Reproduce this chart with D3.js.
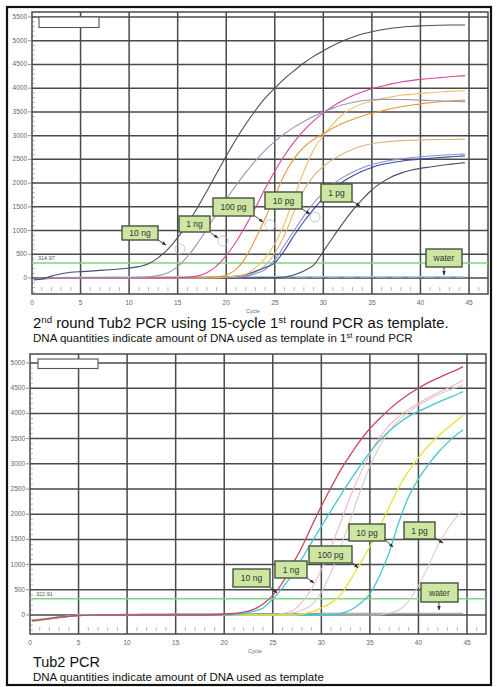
<!DOCTYPE html>
<html><head><meta charset="utf-8">
<script src="https://cdn.jsdelivr.net/npm/d3@7"></script>
<style>
body{margin:0;background:#fff}
svg{display:block}
text{font-family:"Liberation Sans",Arial,Helvetica,sans-serif}
</style></head>
<body><svg id="c" width="498" height="687"></svg>
<script>
// ---------------- data ----------------
const cycles = [0.2,1,2,3,4,5,6,7,8,9,10,11,12,13,14,15,16,17,18,19,20,21,22,23,24,25,26,27,28,29,30,31,32,33,34,35,36,37,38,39,40,41,42,43,44,44.6];
const xTicks = [0,5,10,15,20,25,30,35,40,45];
const topYTicks = [0,500,1000,1500,2000,2500,3000,3500,4000,4500,5000,5500];
const botYTicks = [0,500,1000,1500,2000,2500,3000,3500,4000,4500,5000];
const topThreshold = 314.97;
const botThreshold = 322.91;

// top chart (2nd round)
const top10ngA  = [-40,-20,40,90,120,135,145,160,175,190,210,240,300,430,610,850,1140,1470,1830,2200,2570,2920,3240,3530,3790,4000,4200,4370,4530,4670,4790,4900,4995,5075,5140,5190,5230,5262,5285,5300,5312,5320,5326,5330,5332,5333];
const top10ngB  = [-30,-15,0,5,5,5,5,5,5,8,10,15,25,50,110,240,450,720,1030,1350,1660,1950,2220,2470,2690,2880,3040,3180,3300,3410,3500,3580,3650,3700,3735,3755,3765,3765,3760,3755,3748,3740,3733,3726,3720,3716];
const top1ngA   = [-30,-20,-5,0,0,0,0,0,0,0,0,0,0,0,0,5,15,40,110,250,470,760,1100,1480,1880,2250,2580,2870,3110,3310,3480,3620,3740,3840,3920,3990,4040,4090,4130,4160,4185,4205,4222,4240,4255,4264];
const top100pgA = [-30,-20,-10,0,0,0,0,0,0,0,0,0,0,0,0,0,0,5,10,25,60,180,430,820,1250,1720,2180,2520,2760,2920,3040,3160,3260,3340,3410,3470,3520,3570,3610,3640,3670,3695,3715,3730,3745,3750];
const top100pgB = [-25,-15,-5,0,0,0,0,0,0,0,0,0,0,0,0,0,0,0,5,10,20,40,80,220,420,720,1150,1700,2250,2700,3000,3250,3450,3580,3670,3730,3780,3820,3850,3870,3890,3905,3920,3932,3942,3947];
const top10pgA  = [-20,-10,0,0,0,0,0,0,0,0,0,0,0,0,0,0,0,0,5,10,20,40,70,140,220,320,580,900,1190,1450,1690,1880,2030,2150,2250,2330,2390,2430,2460,2485,2505,2522,2538,2552,2565,2571];
const top10pgB  = [-20,-10,0,0,0,0,0,0,0,0,0,0,0,0,0,0,0,0,5,10,15,25,40,90,180,380,690,1000,1310,1580,1800,1980,2120,2230,2320,2390,2440,2480,2510,2535,2555,2572,2586,2598,2608,2612];
const top1pgA   = [-20,-10,0,0,0,0,0,0,0,0,0,0,0,0,0,0,0,0,0,0,0,0,0,0,5,10,20,70,150,270,560,860,1150,1420,1650,1860,2010,2130,2210,2270,2310,2340,2370,2395,2418,2430];
const top1pgB   = [-20,-10,0,0,0,0,0,0,0,0,0,0,0,0,0,0,0,0,0,5,10,20,40,120,260,520,900,1400,1850,2150,2350,2500,2620,2710,2780,2830,2860,2880,2895,2903,2910,2915,2918,2920,2922,2923];
const topWaterA = [-20,-10,0,5,10,10,15,15,20,20,20,20,20,20,25,25,25,25,25,25,25,25,25,25,25,25,25,25,25,25,25,25,25,25,25,25,25,25,25,25,25,25,25,25,25,25];
const topWaterB = [-35,-20,-8,0,0,5,5,5,5,5,5,5,5,5,5,5,5,5,5,5,5,5,5,5,5,5,5,5,5,5,5,5,5,5,5,5,5,5,5,5,5,5,5,5,5,5];

// bottom chart (Tub2 PCR)
const bot10ngA  = [-110,-95,-70,-45,-25,-10,-3,0,0,0,0,0,0,0,0,0,0,0,0,5,15,30,55,110,220,390,640,990,1350,1760,2160,2530,2880,3180,3460,3700,3900,4080,4240,4380,4500,4610,4700,4790,4870,4927];
const bot10ngB  = [-120,-100,-75,-50,-28,-12,-4,0,0,0,0,0,0,0,0,0,0,0,0,0,0,10,30,70,140,320,540,800,1120,1440,1760,2070,2380,2680,2960,3230,3460,3650,3810,3940,4040,4130,4220,4300,4380,4431];
const bot1ngA   = [-100,-90,-65,-40,-22,-8,-2,0,0,0,0,0,0,0,0,0,0,0,0,0,0,0,0,0,0,10,30,80,250,520,900,1350,1850,2350,2800,3200,3520,3760,3940,4080,4200,4310,4410,4500,4600,4663];
const bot1ngB   = [-90,-80,-60,-38,-20,-8,-2,0,0,0,0,0,0,0,0,0,0,0,0,0,0,0,0,0,0,0,0,40,100,200,450,850,1350,1900,2450,2950,3350,3650,3870,4030,4160,4270,4370,4450,4520,4560];
const bot100pg  = [-130,-110,-80,-50,-28,-12,-4,0,0,0,0,0,0,0,0,0,0,0,0,0,0,0,0,0,0,0,0,0,20,60,140,240,400,700,1020,1360,1740,2150,2540,2860,3120,3350,3540,3710,3870,3968];
const bot10pg   = [-115,-100,-72,-46,-25,-10,-3,0,0,0,0,0,0,0,0,0,0,0,0,0,0,0,0,0,0,0,0,0,0,0,0,0,30,100,230,420,780,1250,1850,2350,2700,2980,3220,3420,3590,3671];
const bot1pg    = [-105,-90,-66,-42,-22,-8,-2,0,0,0,0,0,0,0,0,0,0,0,0,0,0,0,0,0,0,0,0,0,0,0,0,0,0,0,0,0,0,40,100,280,580,960,1380,1700,1960,2060];
const botWater  = [-95,-85,-62,-40,-20,-6,0,5,10,10,15,15,20,20,20,25,25,25,25,25,25,25,25,25,30,30,30,30,30,30,35,35,35,35,35,35,35,35,35,35,35,35,35,35,35,35];

// labels
const topLabels = ["10 ng","1 ng","100 pg","10 pg","1 pg","water"];
const botLabels = ["10 ng","1 ng","100 pg","10 pg","1 pg","water"];

// ---------------- layout / styles ----------------
const svg = d3.select("#c");
svg.append("rect").attr("width",498).attr("height",687).attr("fill","#fff");

const defs = svg.append("defs");
defs.append("marker").attr("id","ah").attr("viewBox","0 0 10 10").attr("refX",9).attr("refY",5)
  .attr("markerWidth",5).attr("markerHeight",5).attr("orient","auto")
  .append("path").attr("d","M0,1 L10,5 L0,9 Z").attr("fill","#333");

function drawChart(cfg){
  const g = svg.append("g");
  const x = d3.scaleLinear().domain([0,45]).range([cfg.x0, cfg.x45]);
  const y = d3.scaleLinear().domain([0,cfg.yRefVal]).range([cfg.y0, cfg.yRefPx]);

  const clipId = "clip"+cfg.id;
  defs.append("clipPath").attr("id",clipId).append("rect")
    .attr("x",cfg.left).attr("y",cfg.top).attr("width",cfg.right-cfg.left).attr("height",cfg.bottom-cfg.top);

  // minor ticks
  const yMinor = d3.range(-300, cfg.yRefVal+1, 100);
  g.selectAll(".ym").data(yMinor).join("line")
    .attr("x1",cfg.left).attr("x2",cfg.left+3).attr("y1",d=>y(d)).attr("y2",d=>y(d))
    .attr("stroke","#aaa").attr("stroke-width",0.8);
  const xMinor = d3.range(1,47,1);
  g.selectAll(".xm").data(xMinor).join("line")
    .attr("x1",d=>x(d)).attr("x2",d=>x(d)).attr("y1",cfg.bottom-7).attr("y2",cfg.bottom-3)
    .attr("stroke","#aaa").attr("stroke-width",0.8);

  // gridlines
  g.selectAll(".gy").data(cfg.yTicks).join("line")
    .attr("x1",cfg.left).attr("x2",cfg.right).attr("y1",d=>y(d)).attr("y2",d=>y(d))
    .attr("stroke","#4a4a4a").attr("stroke-width",1.5);
  g.selectAll(".gx").data(xTicks.filter(d=>d>0)).join("line")
    .attr("x1",d=>x(d)).attr("x2",d=>x(d)).attr("y1",cfg.top).attr("y2",cfg.bottom)
    .attr("stroke","#4a4a4a").attr("stroke-width",1.5);
  // frame
  g.append("rect").attr("x",cfg.left).attr("y",cfg.top).attr("width",cfg.right-cfg.left).attr("height",cfg.bottom-cfg.top)
    .attr("fill","none").attr("stroke","#4a4a4a").attr("stroke-width",1.5);

  // tick labels
  g.selectAll(".yl").data(cfg.yTicks).join("text")
    .attr("x",cfg.left-5).attr("y",d=>y(d)+2).attr("text-anchor","end")
    .attr("font-size",6.5).attr("fill","#666").text(d=>d);
  g.selectAll(".yt").data(cfg.yTicks).join("line")
    .attr("x1",cfg.left-4).attr("x2",cfg.left).attr("y1",d=>y(d)).attr("y2",d=>y(d))
    .attr("stroke","#777").attr("stroke-width",0.8);
  g.selectAll(".xl").data(xTicks).join("text")
    .attr("x",d=>x(d)).attr("y",cfg.bottom+11).attr("text-anchor","middle")
    .attr("font-size",6.5).attr("fill","#666").text(d=>d);
  g.append("text").attr("x",cfg.cycleX).attr("y",cfg.bottom+19).attr("text-anchor","middle")
    .attr("font-size",5.5).attr("fill","#666").text("Cycle");

  // small legend box
  g.append("rect").attr("x",cfg.box[0]).attr("y",cfg.box[1]).attr("width",cfg.box[2]).attr("height",cfg.box[3])
    .attr("fill","#fff").attr("stroke","#555").attr("stroke-width",1.1);

  // threshold
  g.append("line").attr("x1",cfg.left).attr("x2",cfg.right).attr("y1",y(cfg.threshold)).attr("y2",y(cfg.threshold))
    .attr("stroke","#7ed67e").attr("stroke-width",1.4);
  g.append("text").attr("x",cfg.left+6).attr("y",y(cfg.threshold)-3).attr("font-size",5.5).attr("fill","#555")
    .text(cfg.threshold.toFixed(2));

  // curves
  const line = d3.line().x((d,i)=>x(cycles[i])).y(d=>y(d)).curve(d3.curveMonotoneX);
  const cg = g.append("g").attr("clip-path",`url(#${clipId})`);
  cfg.series.forEach(s=>{
    cg.append("path").attr("d",line(s.values)).attr("fill","none")
      .attr("stroke",s.color).attr("stroke-width",s.w||1.1).attr("stroke-dasharray",s.dash||null);
  });

  // annotation circles
  (cfg.circles||[]).forEach(c=>{
    g.append("circle").attr("cx",c[0]).attr("cy",c[1]).attr("r",5).attr("fill","none").attr("stroke","#bbb").attr("stroke-width",0.8);
  });

  // labels
  cfg.labels.forEach((L,i)=>{
    const b = cfg.labelBoxes[i];
    g.append("line").attr("x1",b.a[0]).attr("y1",b.a[1]).attr("x2",b.a[2]).attr("y2",b.a[3])
      .attr("stroke","#333").attr("stroke-width",0.9).attr("marker-end","url(#ah)");
    g.append("rect").attr("x",b.x).attr("y",b.y).attr("width",b.w).attr("height",b.h)
      .attr("fill","#cde6a3").attr("stroke","#46533a").attr("stroke-width",1.4);
    g.append("text").attr("x",b.x+b.w/2).attr("y",b.y+b.h/2+3).attr("text-anchor","middle")
      .attr("font-size",8.5).attr("fill","#333").text(L);
  });
  return {x,y};
}

drawChart({
  id:"t", left:32, right:488, top:12, bottom:294, x0:32, x45:469,
  y0:278, yRefVal:5500, yRefPx:17, yTicks:topYTicks, threshold:topThreshold, cycleX:253,
  box:[39,17,60,10.5],
  series:[
    {values:topWaterA, color:"#a8cde6", w:1.6},
    {values:topWaterB, color:"#6a7890", w:1, dash:"6,10"},
    {values:top1pgA,   color:"#4a4a6a"},
    {values:top1pgB,   color:"#d8b878"},
    {values:top10pgB,  color:"#8a8fd0"},
    {values:top10pgA,  color:"#3a4a9e"},
    {values:top100pgB, color:"#f0c070"},
    {values:top100pgA, color:"#e8963c"},
    {values:top1ngA,   color:"#d8489a"},
    {values:top10ngB,  color:"#9a94bc"},
    {values:top10ngA,  color:"#4b4b6b"}
  ],
  circles:[[180,249],[223,241],[270,225],[315,217]],
  labels: topLabels,
  labelBoxes:[
    {x:122,y:226,w:36,h:14, a:[158,240,166,245]},
    {x:179,y:216,w:31,h:16, a:[211,233,218,238]},
    {x:213,y:198,w:41,h:18, a:[255,216,263,222]},
    {x:265,y:192,w:37,h:17, a:[302,209,310,214]},
    {x:321,y:184,w:31,h:18, a:[352,201,360,206]},
    {x:426,y:249,w:36,h:18, a:[444,267,444,275]}
  ]
});

drawChart({
  id:"b", left:30, right:486, top:354, bottom:634, x0:30, x45:467,
  y0:615, yRefVal:5000, yRefPx:363, yTicks:botYTicks, threshold:botThreshold, cycleX:255,
  box:[38,359,60,9.5],
  series:[
    {values:botWater, color:"#9a9a9a", w:1.2},
    {values:bot1pg,   color:"#d4d0d0"},
    {values:bot1ngB,  color:"#dcc6ca"},
    {values:bot1ngA,  color:"#f2b6c6"},
    {values:bot10pg,  color:"#46c6d2", w:1.3},
    {values:bot100pg, color:"#e6e23c", w:1.3},
    {values:bot10ngB, color:"#46c6d2", w:1.3},
    {values:bot10ngA, color:"#c8485e", w:1.3}
  ],
  labels: botLabels,
  labelBoxes:[
    {x:233,y:569,w:37,h:18, a:[270,587,277,593]},
    {x:275,y:561,w:32,h:17, a:[307,578,314,583]},
    {x:309,y:546,w:43,h:17, a:[352,562,358,568]},
    {x:349,y:524,w:36,h:17, a:[385,540,393,547]},
    {x:404,y:522,w:31,h:17, a:[435,538,443,543]},
    {x:421,y:583,w:37,h:19, a:[439,602,439,610]}
  ]
});

// titles
function fitText(sel, target){
  const w = sel.node().getComputedTextLength();
  const fs = parseFloat(sel.attr("font-size"));
  sel.attr("font-size", fs*target/w);
}
const t1 = svg.append("text").attr("x",33).attr("y",328).attr("font-size",13).attr("fill","#111");
t1.append("tspan").text("2");
t1.append("tspan").attr("baseline-shift","super").attr("font-size","65%").text("nd");
t1.append("tspan").text(" round Tub2 PCR using 15-cycle 1");
t1.append("tspan").attr("baseline-shift","super").attr("font-size","65%").text("st");
t1.append("tspan").text(" round PCR as template.");
fitText(t1, 416);

const s1 = svg.append("text").attr("x",33).attr("y",342).attr("font-size",10).attr("fill","#111");
s1.append("tspan").text("DNA quantities indicate amount of DNA used as template in 1");
s1.append("tspan").attr("baseline-shift","super").attr("font-size","65%").text("st");
s1.append("tspan").text(" round PCR");
fitText(s1, 380);

const t2 = svg.append("text").attr("x",33).attr("y",667).attr("font-size",14).attr("fill","#111").text("Tub2 PCR");
fitText(t2, 67);
const s2 = svg.append("text").attr("x",33).attr("y",681).attr("font-size",10).attr("fill","#111")
  .text("DNA quantities indicate amount of DNA used as template");
fitText(s2, 291);

// outer border
svg.append("rect").attr("x",7).attr("y",7).attr("width",484).attr("height",678)
  .attr("fill","none").attr("stroke","#111").attr("stroke-width",2.2);
</script></body></html>
